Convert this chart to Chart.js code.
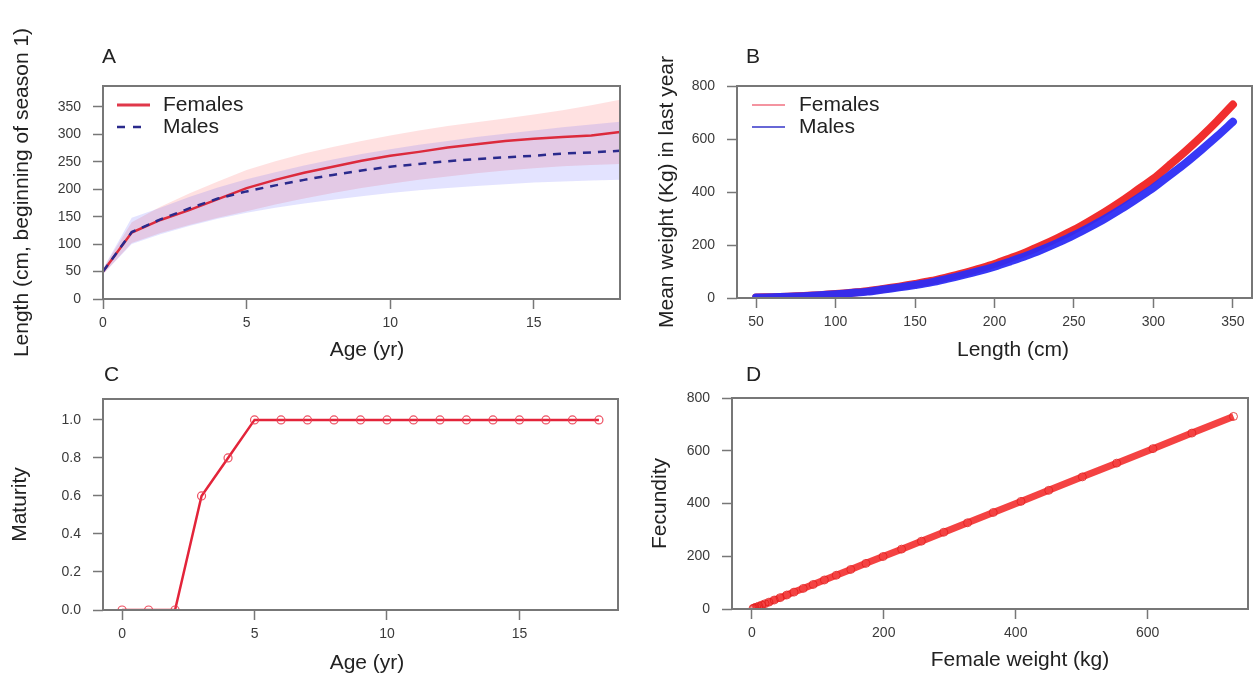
<!DOCTYPE html>
<html><head><meta charset="utf-8">
<script src="https://cdn.jsdelivr.net/npm/chart.js@4.4.1/dist/chart.umd.min.js"></script>
<style>
html,body{margin:0;padding:0;background:#fff;width:1253px;height:676px;overflow:hidden}
canvas{position:absolute}
</style></head><body>
<canvas id="cA" width="628" height="370" style="left:0;top:0"></canvas>
<canvas id="cB" width="625" height="370" style="left:628px;top:0"></canvas>
<canvas id="cC" width="628" height="316" style="left:0;top:360px"></canvas>
<canvas id="cD" width="625" height="316" style="left:628px;top:360px"></canvas>
<script>
// ---------- data ----------
const ages = [0,1,2,3,4,5,6,7,8,9,10,11,12,13,14,15,16,17,18];
const femaleLength = [50,121,144,162,182,202,217,230,241,252,261,268,276,282,288,292,295,298,304];
const maleLength   = [50,122,145,165,183,196,207,217,226,234,241,246,251,255,258,261,265,267,270];
const femaleUpper  = [55,140,168,192,214,235,251,265,277,288,298,307,315,322,329,336,344,353,363];
const femaleLower  = [45,102,120,135,148,160,172,183,193,202,210,217,223,229,234,238,242,244,246];
const maleUpper    = [55,148,166,186,203,218,231,243,254,264,273,281,288,295,301,307,313,318,323];
const maleLower    = [45,100,118,133,146,157,166,174,181,187,193,198,202,206,209,212,214,216,217];

const lengthsB = [50,60,70,80,90,100,110,120,130,140,150,160,170,180,190,200,210,220,230,240,250,260,270,280,290,300,310,320,330,340,350];
const femaleWeight = [1.8,3.1,5.0,7.5,10.8,15,20,26,34,43,53,64,78,93,110,128,150,173,199,227,257,291,327,366,408,450,501,553,608,667,730];
const maleWeight   = [1.7,2.9,4.7,7.0,10.1,14,19,24,32,40,49,59,72,86,101,118,138,159,183,209,237,268,301,337,376,416,462,508,558,610,665];

const maturity = [0,0,0,0.6,0.8,1,1,1,1,1,1,1,1,1,1,1,1,1,1];

const femaleWeightD = [1.8,3.1,5.0,7.5,10.8,15,20,26,34,43,53,64,78,93,110,128,150,173,199,227,257,291,327,366,408,450,501,553,608,667,730];
const fecundity     = [1.8,3.1,5.0,7.5,10.8,15,20,26,34,43,53,64,78,93,110,128,150,173,199,227,257,291,327,366,408,450,501,553,608,667,730];

const xTicksA = [0,5,10,15];
const yTicksA = [0,50,100,150,200,250,300,350];
const xTicksB = [50,100,150,200,250,300,350];
const yTicksB = [0,200,400,600,800];
const xTicksC = [0,5,10,15];
const yTicksC = [0,0.2,0.4,0.6,0.8,1.0];
const xTicksD = [0,200,400,600];
const yTicksD = [0,200,400,600,800];

// ---------- helpers ----------
Chart.defaults.font.family = '"Liberation Sans", Arial, Helvetica, sans-serif';
Chart.defaults.animation = false;
const zip = (xs, ys) => xs.map((x, i) => ({x: x, y: ys[i]}));
const FONT = '21px "Liberation Sans", Arial, sans-serif';

function axis(min, max, ticks, fmt, title, titlePad, fitSize, isY) {
  return {
    type: 'linear', min: min, max: max,
    afterBuildTicks: s => { s.ticks = ticks.map(v => ({value: v})); },
    afterFit: s => { if (isY) s.width = fitSize; else s.height = fitSize; },
    grid: {display: true, drawOnChartArea: false, drawTicks: true, tickLength: 10, tickWidth: 1.5, tickColor: '#777'},
    border: {display: false},
    ticks: {padding: isY ? 12 : 6, color: '#3a3a3a', font: {size: 14}, callback: fmt, maxRotation: 0, autoSkip: false},
    title: {display: !!title, text: title || '', color: '#222', font: {size: 21}, padding: titlePad}
  };
}
const boxPlugin = {
  id: 'box',
  afterDraw(chart) {
    const {ctx, chartArea: a} = chart;
    ctx.save();
    ctx.strokeStyle = '#777'; ctx.lineWidth = 2;
    ctx.strokeRect(a.left, a.top, a.right - a.left, a.bottom - a.top);
    ctx.restore();
  }
};
function textPlugin(draw) {
  return { id: 'txt', afterDraw(chart) { const ctx = chart.ctx; ctx.save(); draw(ctx); ctx.restore(); } };
}
function label(ctx, t, x, y, align) {
  ctx.font = FONT; ctx.fillStyle = '#222'; ctx.textBaseline = 'middle'; ctx.textAlign = align || 'left';
  ctx.fillText(t, x, y);
}
function seg(ctx, x1, x2, y, color, w, dash) {
  ctx.beginPath(); ctx.strokeStyle = color; ctx.lineWidth = w; ctx.setLineDash(dash || []);
  ctx.moveTo(x1, y); ctx.lineTo(x2, y); ctx.stroke(); ctx.setLineDash([]);
}
const fmtInt = v => String(v);
const fmt1 = v => v.toFixed(1);

// ---------- Panel A ----------
new Chart(document.getElementById('cA'), {
  type: 'line',
  data: { datasets: [
    {data: zip(ages, maleLength), borderColor: '#2a2a8c', borderWidth: 2.5, borderDash: [8,7], pointRadius: 0, fill: false, order: 0},
    {data: zip(ages, femaleLength), borderColor: '#dc2a3c', borderWidth: 2.5, pointRadius: 0, fill: false, order: 1},
    {data: zip(ages, maleUpper), borderWidth: 0, pointRadius: 0, fill: '+1', backgroundColor: 'rgba(40,40,255,0.13)', order: 2},
    {data: zip(ages, maleLower), borderWidth: 0, pointRadius: 0, fill: false, order: 3},
    {data: zip(ages, femaleUpper), borderWidth: 0, pointRadius: 0, fill: '+1', backgroundColor: 'rgba(255,40,40,0.14)', order: 4},
    {data: zip(ages, femaleLower), borderWidth: 0, pointRadius: 0, fill: false, order: 5}
  ]},
  options: {
    responsive: false, events: [],
    layout: {padding: {top: 86, right: 8, left: 0, bottom: 0}},
    plugins: {legend: {display: false}, tooltip: {enabled: false}},
    scales: {
      x: axis(0, 18, xTicksA, fmtInt, '', {}, 71, false),
      y: axis(0, 388, yTicksA, fmtInt, 'Length (cm, beginning of season 1)', {top: 10, bottom: 0}, 103, true)
    }
  },
  plugins: [boxPlugin, textPlugin(ctx => {
    label(ctx, 'A', 102, 57);
    seg(ctx, 117, 150, 105, '#e0384a', 3);
    label(ctx, 'Females', 163, 105);
    seg(ctx, 117, 141, 127, '#2a2a8c', 2.5, [8,8]);
    label(ctx, 'Males', 163, 127);
    label(ctx, 'Age (yr)', 367, 350, 'center');
  })]
});

// ---------- Panel B ----------
new Chart(document.getElementById('cB'), {
  type: 'line',
  data: { datasets: [
    {data: zip(lengthsB, maleWeight), borderColor: 'rgba(45,45,245,0.95)', borderWidth: 8, borderCapStyle: 'round', borderJoinStyle: 'round', tension: 0.3, pointRadius: 0, fill: false, order: 0},
    {data: zip(lengthsB, femaleWeight), borderColor: 'rgba(240,35,35,0.95)', borderWidth: 8, borderCapStyle: 'round', borderJoinStyle: 'round', tension: 0.3, pointRadius: 0, fill: false, order: 1}
  ]},
  options: {
    responsive: false, events: [],
    layout: {padding: {top: 86, right: 1, left: 0, bottom: 0}},
    plugins: {legend: {display: false}, tooltip: {enabled: false}},
    scales: {
      x: axis(38, 362, xTicksB, fmtInt, '', {}, 72, false),
      y: axis(0, 800, yTicksB, fmtInt, 'Mean weight (Kg) in last year', {top: 27, bottom: 0}, 109, true)
    }
  },
  plugins: [boxPlugin, textPlugin(ctx => {
    label(ctx, 'B', 118, 57);
    seg(ctx, 124, 157, 105, '#f07080', 1.5);
    label(ctx, 'Females', 171, 105);
    seg(ctx, 124, 157, 127, '#3535c8', 1.5);
    label(ctx, 'Males', 171, 127);
    label(ctx, 'Length (cm)', 385, 350, 'center');
  })]
});

// ---------- Panel C ----------
new Chart(document.getElementById('cC'), {
  type: 'line',
  data: { datasets: [
    {data: zip(ages, maturity), borderColor: '#e3243a', borderWidth: 2.5, pointRadius: 4, pointBorderWidth: 1.2,
     pointBorderColor: 'rgba(235,60,80,0.9)', pointBackgroundColor: 'rgba(0,0,0,0)', fill: false}
  ]},
  options: {
    responsive: false, events: [],
    layout: {padding: {top: 39, right: 10, left: 0, bottom: 0}},
    plugins: {legend: {display: false}, tooltip: {enabled: false}},
    scales: {
      x: axis(-0.72, 18.72, xTicksC, fmtInt, '', {}, 66, false),
      y: axis(0, 1.11, yTicksC, fmt1, 'Maturity', {top: 8, bottom: 0}, 103, true)
    }
  },
  plugins: [boxPlugin, textPlugin(ctx => {
    label(ctx, 'C', 104, 15);
    label(ctx, 'Age (yr)', 367, 303, 'center');
  })]
});

// ---------- Panel D ----------
new Chart(document.getElementById('cD'), {
  type: 'line',
  data: { datasets: [
    {data: zip(femaleWeightD, fecundity), borderColor: 'rgba(242,40,40,0.88)', borderWidth: 7, pointRadius: 4, pointBorderWidth: 1,
     pointBorderColor: 'rgba(225,30,30,0.8)', pointBackgroundColor: 'rgba(0,0,0,0)', fill: false}
  ]},
  options: {
    responsive: false, events: [],
    layout: {padding: {top: 38, right: 5, left: 0, bottom: 0}},
    plugins: {legend: {display: false}, tooltip: {enabled: false}},
    scales: {
      x: axis(-30, 752, xTicksD, fmtInt, '', {}, 67, false),
      y: axis(0, 800, yTicksD, fmtInt, 'Fecundity', {top: 20, bottom: 0}, 104, true)
    }
  },
  plugins: [boxPlugin, textPlugin(ctx => {
    label(ctx, 'D', 118, 15);
    label(ctx, 'Female weight (kg)', 392, 300, 'center');
  })]
});
</script>
</body></html>
